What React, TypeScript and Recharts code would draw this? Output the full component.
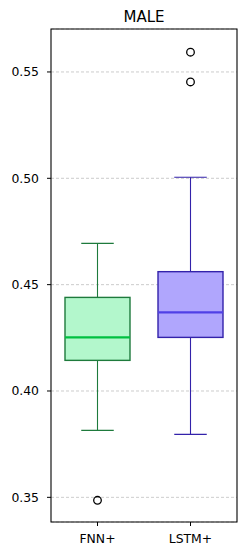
import { Bar, CartesianGrid, ComposedChart, ReferenceArea, Scatter, XAxis, YAxis } from "recharts";

// box plot stats
const categories = ["FNN+", "LSTM+"];
const whiskerLow = [0.3815, 0.3796];
const q1 = [0.4144, 0.4252];
const medians = [0.4252, 0.437];
const q3 = [0.444, 0.4561];
const whiskerHigh = [0.4694, 0.5005];

const outlierCategory = ["FNN+", "LSTM+", "LSTM+"];
const outlierValue = [0.3486, 0.5593, 0.5453];

const yTicks = [0.35, 0.4, 0.45, 0.5, 0.55];
const yDomain: [number, number] = [0.3384, 0.5702];

const palette = [
  { fill: "#b3f7cc", edge: "#1e7a3c", median: "#00c040" },
  { fill: "#b0a6fd", edge: "#3322aa", median: "#5040e6" },
];

const rows = categories.map((name, i) => ({
  name,
  idx: i,
  low: whiskerLow[i],
  q1: q1[i],
  med: medians[i],
  q3: q3[i],
  high: whiskerHigh[i],
}));

const outliers = outlierCategory.map((name, i) => ({ name, value: outlierValue[i] }));

const FONT = "'DejaVu Sans', sans-serif";

/** Draws one box: the bar spans low..high, so its y/height give the scale. */
function BoxShape(props: any) {
  const { x, y, width, height, payload } = props;
  const { low, high } = payload;
  const c = palette[payload.idx];
  const py = (v: number) => y + ((high - v) / (high - low)) * height;
  const cx = x + width / 2;
  const cap = width / 4;
  const top = py(payload.q3);
  const bot = py(payload.q1);
  return (
    <g>
      <line x1={cx} x2={cx} y1={py(high)} y2={top} stroke={c.edge} strokeWidth={1.1} />
      <line x1={cx} x2={cx} y1={bot} y2={py(low)} stroke={c.edge} strokeWidth={1.1} />
      <line x1={cx - cap} x2={cx + cap} y1={py(high)} y2={py(high)} stroke={c.edge} strokeWidth={1.1} />
      <line x1={cx - cap} x2={cx + cap} y1={py(low)} y2={py(low)} stroke={c.edge} strokeWidth={1.1} />
      <rect x={x} y={top} width={width} height={bot - top} fill={c.fill} stroke={c.edge} strokeWidth={1.4} />
      <line x1={x} x2={x + width} y1={py(payload.med)} y2={py(payload.med)} stroke={c.median} strokeWidth={2.2} />
    </g>
  );
}

function Flier(props: any) {
  const { cx, cy } = props;
  return <circle cx={cx} cy={cy} r={3.8} fill="none" stroke="#000" strokeWidth={1.3} />;
}

export default function App() {
  return (
    <div style={{ position: "relative", width: 246, height: 556 }}>
      <style>{`body{margin:0}`}</style>
      <ComposedChart
        width={246}
        height={556}
        data={rows}
        margin={{ top: 29, right: 9, left: 0, bottom: 0 }}
      >
        <CartesianGrid vertical={false} stroke="#bfbfbf" strokeDasharray="3 2" strokeWidth={0.8} />
        <XAxis
          dataKey="name"
          type="category"
          allowDuplicatedCategory={false}
          height={34}
          tickSize={4}
          tickMargin={8}
          axisLine={false}
          tickLine={{ stroke: "#000" }}
          tick={{ fill: "#000", fontSize: 12.4, fontFamily: FONT }}
        />
        <YAxis
          type="number"
          domain={yDomain}
          ticks={yTicks}
          allowDataOverflow
          width={51}
          tickSize={4}
          tickMargin={8}
          axisLine={false}
          tickLine={{ stroke: "#000" }}
          tickFormatter={(v: number) => v.toFixed(2)}
          tick={{ fill: "#000", fontSize: 12.4, fontFamily: FONT }}
        />
        <Bar
          dataKey={(d: any) => [d.low, d.high]}
          barSize={65}
          shape={BoxShape}
          isAnimationActive={false}
        />
        <Scatter data={outliers} dataKey="value" shape={Flier} isAnimationActive={false} />
        <ReferenceArea y1={yDomain[0]} y2={yDomain[1]} fill="none" stroke="#000" strokeWidth={1.1} ifOverflow="visible" />
      </ComposedChart>
      <svg width={246} height={30} style={{ position: "absolute", left: 0, top: 0 }}>
        <text x={144} y={22} textAnchor="middle" fontFamily={FONT} fontSize={15} fill="#000">
          MALE
        </text>
      </svg>
    </div>
  );
}
